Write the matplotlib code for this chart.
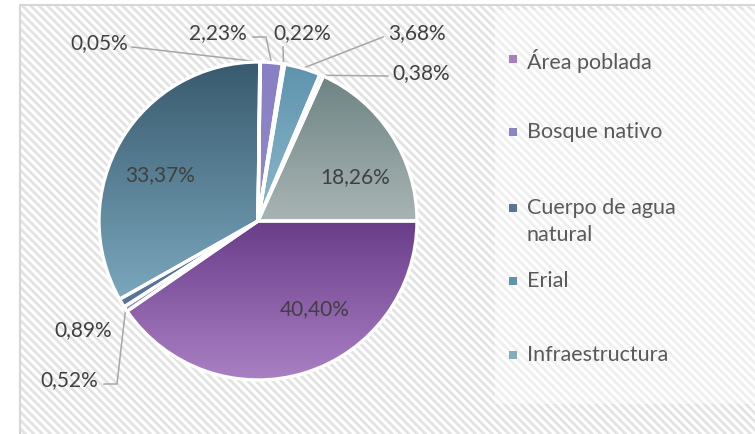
import matplotlib.pyplot as plt
import numpy as np
from matplotlib.patches import Rectangle
from matplotlib.colors import LinearSegmentedColormap

plt.rcParams['font.family'] = ['Lato', 'DejaVu Sans']

# data (clockwise, first slice starting at 3 o'clock)
valores = [40.40, 0.52, 0.89, 33.37, 0.05, 2.23, 0.22, 3.68, 0.38, 18.26]
etiquetas = ['40,40%', '0,52%', '0,89%', '33,37%', '0,05%',
             '2,23%', '0,22%', '3,68%', '0,38%', '18,26%']
leyenda = ['Área poblada', 'Bosque nativo', 'Cuerpo de agua\nnatural', 'Erial', 'Infraestructura']

# gradient colours (top, bottom) for each slice
col_arriba = ['#6a3d8a', '#8a86c6', '#5a7398', '#395a6e', '#7fb0b8',
              '#8880c4', '#6f8fb0', '#5f93ad', '#6d8c9c', '#6e8484']
col_abajo = ['#aa80c4', '#8a86c6', '#5a7398', '#7aa7bd', '#7fb0b8',
             '#8f89c9', '#6f8fb0', '#8bbacd', '#6d8c9c', '#a9b4b4']
col_leyenda = ['#a77fc0', '#8a86c6', '#5a7398', '#5f93ad', '#7fb0b8']

W, H = 755, 435
fig = plt.figure(figsize=(W / 100, H / 100), dpi=100)
fig.patch.set_facecolor('white')

# hatched chart background
plt.rcParams['hatch.linewidth'] = 2.0
fondo = Rectangle((20 / W, -0.05), 1.0, (H - 6) / H + 0.05, transform=fig.transFigure,
                  facecolor='white', edgecolor='#e3e3e3', hatch='\\\\\\\\', linewidth=0,
                  zorder=-10)
fig.add_artist(fondo)
marco = Rectangle((20 / W, -0.05), 1.0, (H - 6) / H + 0.05, transform=fig.transFigure,
                  facecolor='none', edgecolor='#d6d6d6', linewidth=1.5, zorder=-8)
fig.add_artist(marco)
caja = Rectangle((495 / W, 1 - 405 / H), 1.0, (405 - 11) / H, transform=fig.transFigure,
                 facecolor='white', alpha=0.45, edgecolor='none', zorder=-9)
fig.add_artist(caja)

# pie axes: centre at (258, 222) px, radius 159 px
cx, cy, R = 258, 222, 159
L = 1.3
half = R * L
ax = fig.add_axes([(cx - half) / W, (H - cy - half) / H, 2 * half / W, 2 * half / H])
ax.patch.set_visible(False)

wedges, _ = ax.pie(valores, startangle=0, counterclock=False, radius=1.0,
                   colors=col_arriba,
                   wedgeprops=dict(edgecolor='white', linewidth=2.4))

for w, c1, c2 in zip(wedges, col_arriba, col_abajo):
    bb = w.get_path().transformed(w.get_patch_transform()).get_extents()
    cmap = LinearSegmentedColormap.from_list('g', [c2, c1])
    grad = np.linspace(0, 1, 100).reshape(-1, 1)
    im = ax.imshow(grad, cmap=cmap, extent=[bb.x0, bb.x1, bb.y0, bb.y1],
                   origin='lower', aspect='auto', zorder=1, interpolation='bilinear')
    im.set_clip_path(w)
    w.set_facecolor('none')
    w.set_zorder(2)
ax.set_xlim(-L, L)
ax.set_ylim(-L, L)
ax.axis('off')


def px(x, y):
    return ((x - cx) / R, (cy - y) / R)


def borde(w, r=1.0):
    a = np.deg2rad((w.theta1 + w.theta2) / 2)
    return (r * np.cos(a), r * np.sin(a))


texto = dict(fontsize=15, color='#404040', va='center')
lc = '#a6a6a6'

# labels inside big slices
for i, pos in [(0, (315, 309)), (3, (160, 175)), (9, (355, 177))]:
    ax.text(*px(*pos), etiquetas[i], ha='center', **texto)

# outside labels: (index, text pos px, ha, leader points px)
externas = [
    (4, (128, 43), 'right', [(132, 48)]),
    (5, (218, 33), 'center', [(253, 38), (266, 38)]),
    (6, (302, 33), 'center', [(283, 48)]),
    (7, (417, 33), 'center', [(383, 38)]),
    (8, (421, 73), 'center', [(388, 77)]),
    (2, (83, 330), 'center', []),
    (1, (69, 380), 'center', [(104, 385), (117, 385)]),
]
for i, pos, ha, pts in externas:
    ax.text(*px(*pos), etiquetas[i], ha=ha, **texto)
    if pts:
        xy = [px(*p) for p in pts] + [borde(wedges[i], 1.0)]
        xs, ys = zip(*xy)
        ax.plot(xs, ys, color=lc, linewidth=1.1, zorder=0.5, clip_on=False)

# legend
ly = [60, 133, 209, 282, 356]
for lab, col, y in zip(leyenda, col_leyenda, ly):
    fig.add_artist(Rectangle((509 / W, 1 - (y + 4) / H), 8 / W, 8 / H,
                             transform=fig.transFigure, facecolor=col, edgecolor='none'))
    fig.text(527 / W, 1 - (y - 11) / H, lab, fontsize=15.5, color='#595959', va='top',
             linespacing=1.45)

fig.savefig('out.png', dpi=100)
